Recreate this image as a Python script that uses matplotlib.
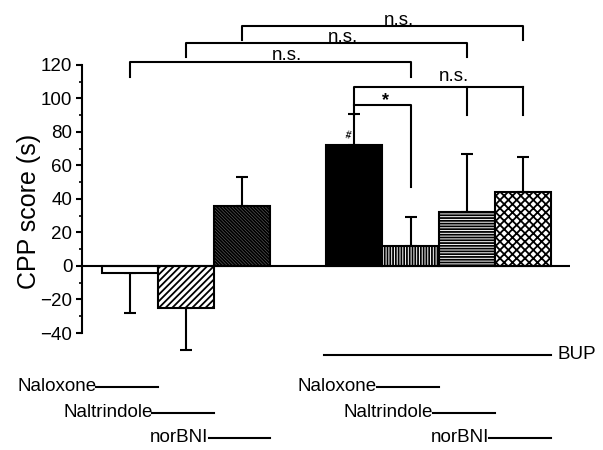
import matplotlib
matplotlib.use("Agg")
import matplotlib.pyplot as plt
from matplotlib.ticker import MultipleLocator

plt.rcParams['font.family'] = ['Liberation Sans', 'DejaVu Sans']
plt.rcParams['hatch.linewidth'] = 1.3

# data
groups = ['Naloxone', 'Naltrindole', 'norBNI',
          'BUP', 'BUP+Naloxone', 'BUP+Naltrindole', 'BUP+norBNI']
slots = [0, 1, 2, 4, 5, 6, 7]
scores = [-4, -25, 36, 72, 12, 32, 44]
sem = [24, 25, 17, 19, 17, 35, 21]
faces = ['white', 'white', '#6a6a6a', 'black', 'white', 'white', 'white']
hatches = ['', '/////', '\\' * 10, '', '|' * 6, '-' * 6, 'xxxx']

# comparisons: (bar a, bar b, top, leg bottom, label)
pairs = [(0, 4, 122, 113, 'n.s.'),
         (1, 5, 133, 125, 'n.s.'),
         (2, 6, 143, 135, 'n.s.')]

fig = plt.figure(figsize=(6.03, 4.5), dpi=100)
ax = fig.add_axes([0.136, 0.26, 0.809, 0.5956])

lo = [e if v < 0 else 0 for v, e in zip(scores, sem)]
hi = [e if v >= 0 else 0 for v, e in zip(scores, sem)]
eb = ax.errorbar(slots, scores, yerr=[lo, hi], fmt='none', ecolor='black',
                 elinewidth=1.5, capsize=4, capthick=1.5, zorder=1)
for art in eb.lines[1] + eb.lines[2]:
    art.set_clip_on(False)
for x, v, fc, h in zip(slots, scores, faces, hatches):
    ax.bar(x, v, width=1.0, color=fc, edgecolor='black', hatch=h,
           linewidth=1.5, zorder=2)

ax.set_xlim(-0.856, 7.84)
ax.set_ylim(-40, 120)
ax.axhline(0, color='black', lw=1.5, zorder=3)
for s in ['top', 'right', 'bottom']:
    ax.spines[s].set_visible(False)
ax.spines['left'].set_linewidth(1.5)
ax.spines['left'].set_bounds(-40, 120)
ax.set_xticks([])
ax.yaxis.set_major_locator(MultipleLocator(20))
ax.yaxis.set_minor_locator(MultipleLocator(10))
ax.tick_params(axis='y', which='major', length=4, width=1.5, pad=3, labelsize=13.5)
ax.tick_params(axis='y', which='minor', length=2.5, width=1.2)
ax.set_ylabel('CPP score (s)', fontsize=18)
ax.yaxis.set_label_coords(-0.085, 0.455)

kw = dict(color='black', lw=1.5, clip_on=False)
for a, b, top, leg, lab in pairs:
    xa, xb = slots[a], slots[b]
    ax.plot([xa, xa, xb, xb], [leg, top, top, leg], **kw)
    ax.text((xa + xb) / 2 + 0.3, top - 1.5, lab, ha='center', va='bottom', fontsize=13.5)

# BUP vs BUP + antagonists
ax.plot([slots[3], slots[3], slots[6]], [90, 107, 107], **kw)
ax.plot([slots[5], slots[5]], [107, 90], **kw)
ax.plot([slots[6], slots[6]], [107, 90], **kw)
ax.text(5.78, 108, 'n.s.', ha='center', va='bottom', fontsize=13.5)
ax.plot([slots[3], slots[4], slots[4]], [96, 96, 47], **kw)
ax.text(4.55, 99, '*', ha='center', va='center', fontsize=13, fontweight='bold')
ax.text(3.88, 78, '#', ha='center', va='center', fontsize=7, fontweight='bold', rotation=-10)

# treatment rows under the bars
rows = {'Naloxone': -72, 'Naltrindole': -87.5, 'norBNI': -102.5}
for x, g in zip(slots, groups):
    if g == 'BUP':
        continue
    name = g.replace('BUP+', '')
    y = rows[name]
    ax.plot([x - 0.6, x + 0.5], [y, y], **kw)
    ax.text(x - 0.6, y, name, ha='right', va='center', fontsize=13.5)
ax.plot([slots[3] - 0.55, slots[6] + 0.5], [-53, -53], **kw)
ax.text(slots[6] + 0.62, -53, 'BUP', ha='left', va='center', fontsize=13.5)

fig.savefig('out.png', dpi=100)
